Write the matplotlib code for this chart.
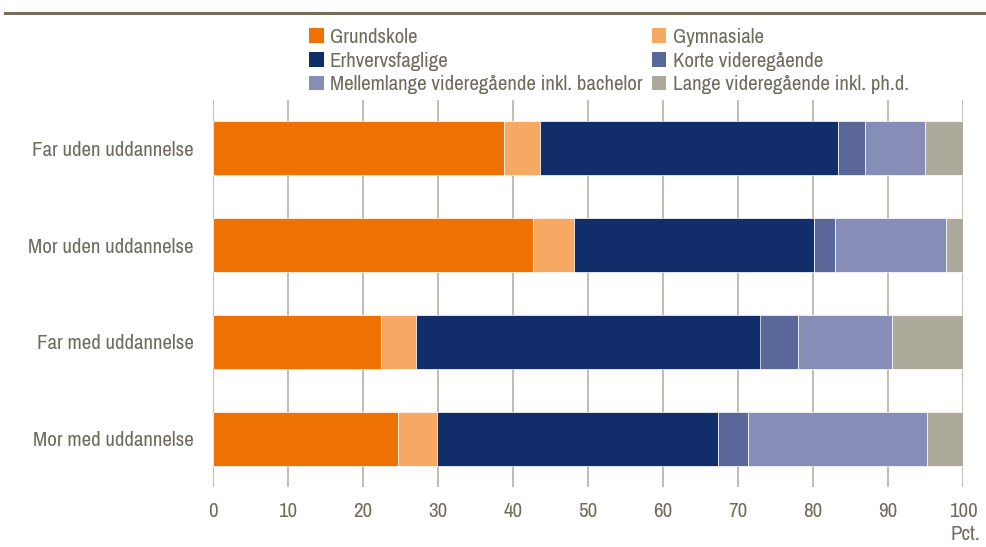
import matplotlib
matplotlib.use("Agg")
import matplotlib.pyplot as plt
from matplotlib.patches import Rectangle
from matplotlib.lines import Line2D
from matplotlib import font_manager
import numpy as np

categories = ["Far uden uddannelse", "Mor uden uddannelse", "Far med uddannelse", "Mor med uddannelse"]
series_names = ["Grundskole", "Gymnasiale", "Erhvervsfaglige", "Korte videregående",
                "Mellemlange videregående inkl. bachelor", "Lange videregående inkl. ph.d."]
grundskole = [38.8, 42.6, 22.4, 24.6]
gymnasiale = [4.8, 5.5, 4.7, 5.3]
erhvervsfaglige = [39.7, 32.0, 45.9, 37.4]
korte = [3.6, 2.8, 5.0, 4.0]
mellemlange = [8.0, 14.8, 12.5, 23.9]
lange = [5.1, 2.3, 9.5, 4.8]
xticks = [0, 10, 20, 30, 40, 50, 60, 70, 80, 90, 100]

colors = ["#EE7203", "#F6A962", "#112E6A", "#5A6799", "#868EB8", "#ADAA9B"]
text_color = "#6F6C5D"

names = sorted({f.name for f in font_manager.fontManager.ttflist})
narrow = [n for n in names if ("Narrow" in n or "Condensed" in n) and "Mono" not in n]
pref = [n for n in narrow if "Liberation" in n or "Arial" in n] + narrow
fam = pref[:1] + ["Liberation Sans", "DejaVu Sans"]
plt.rcParams["font.family"] = fam

fig = plt.figure(figsize=(9.87, 5.47), dpi=100)
renderer = fig.canvas.get_renderer()

def fit_size(s, target_px, base=15.0):
    t = fig.text(0, 0, s, fontsize=base)
    w = t.get_window_extent(renderer).width
    t.remove()
    return base * target_px / w

fs_cat = fit_size("Far uden uddannelse", 162)
fs_leg = fit_size("Mellemlange videregående inkl. bachelor", 313)
fs_tick = fs_cat

ax = fig.add_axes([213/987, 1 - 487/547, 750/987, 387/547])

data = [grundskole, gymnasiale, erhvervsfaglige, korte, mellemlange, lange]
y = np.arange(len(categories))
left = np.zeros(len(categories))
handles = []
for name, vals, c in zip(series_names, data, colors):
    ax.barh(y, vals, left=left, height=0.56, color=c, edgecolor="white", linewidth=0.5, zorder=3)
    left += np.array(vals)
    handles.append(Rectangle((0, 0), 1, 1, facecolor=c, edgecolor="none"))

ax.set_xlim(0, 100)
ax.set_ylim(len(categories) - 0.5, -0.5)
ax.set_xticks(xticks)
ax.set_xticklabels([str(t) for t in xticks], fontsize=fs_tick)
ax.set_yticks(y)
ax.set_yticklabels(categories, fontsize=fs_cat)
ax.xaxis.grid(True, color="#B5B3A5", linewidth=1.2, zorder=0)
ax.yaxis.grid(False)
ax.set_axisbelow(True)
for s in ax.spines.values():
    s.set_visible(False)
ax.tick_params(axis="both", length=0, colors=text_color)
ax.tick_params(axis="x", pad=11)
ax.tick_params(axis="y", pad=14)

fig.text(980/987, 1 - 535/547, "Pct.", ha="right", va="center", fontsize=fs_tick, color=text_color)

order = [0, 2, 4, 1, 3, 5]
leg = fig.legend([handles[i] for i in order], [series_names[i] for i in order],
                 ncol=2, loc="upper left", bbox_to_anchor=(309/987, 1 - 28/547),
                 frameon=False, fontsize=fs_leg, handlelength=0.7, handleheight=0.7,
                 handletextpad=0.3, columnspacing=0.45, labelspacing=0.22,
                 borderpad=0, borderaxespad=0)
for t in leg.get_texts():
    t.set_color(text_color)

fig.add_artist(Line2D([5/987, 1.0], [1 - 12.7/547, 1 - 12.7/547], color="#726D5C", linewidth=2.2))

fig.savefig("out.png", dpi=100, facecolor="white")
